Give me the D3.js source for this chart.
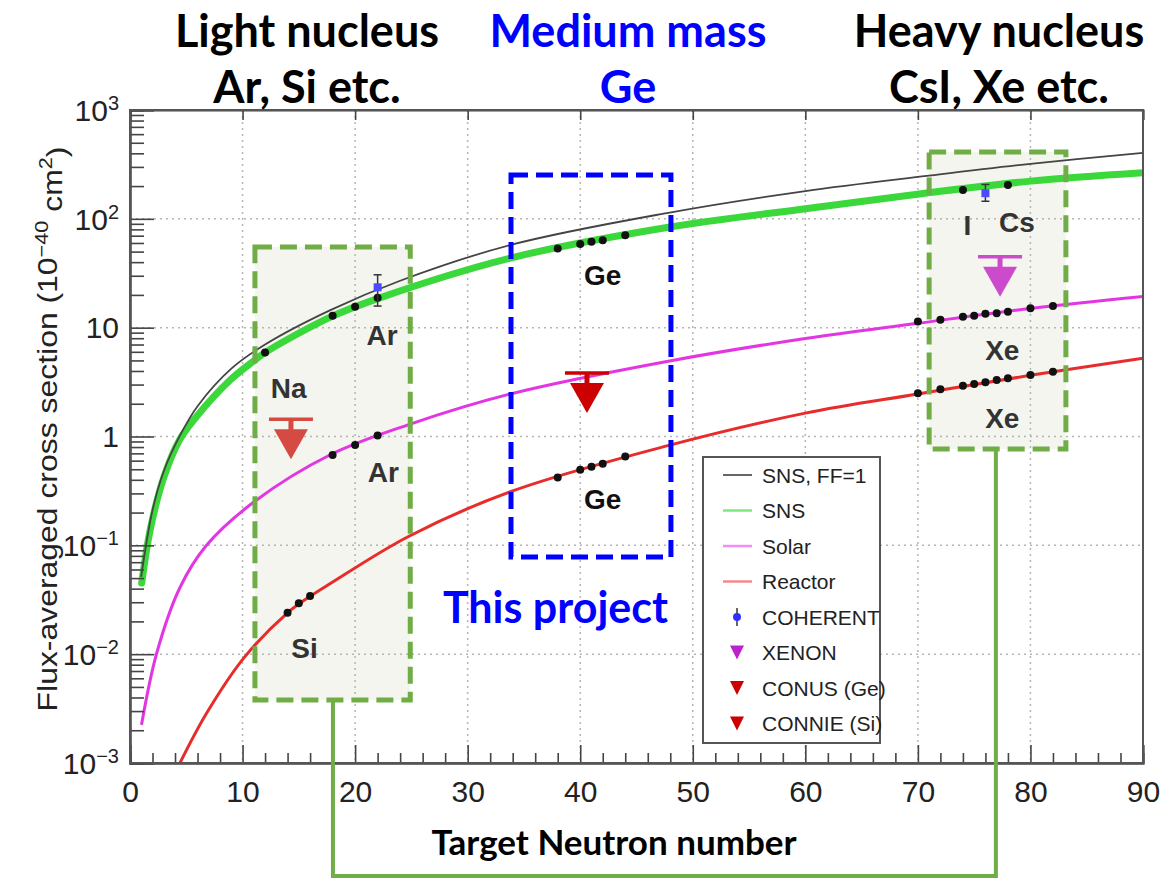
<!DOCTYPE html>
<html>
<head>
<meta charset="utf-8">
<script src="https://cdn.jsdelivr.net/npm/d3@7"></script>
<style>
  body { margin: 0; background: #fff; }
  svg { display: block; }
</style>
</head>
<body>
<script>
// curves: neutron number -> flux-averaged cross section (1e-40 cm^2)
const snsFF1N = [1, 2, 3, 4.5, 6, 9, 12, 17.8, 24, 33.8, 47.7, 60, 70.8, 80, 90];
const snsFF1V = [0.052, 0.21, 0.48, 1.05, 1.9, 4.2, 7.0, 14.5, 27, 57.5, 113, 180, 248, 320, 403];

const snsN = [1.04, 1.8, 3, 4.4, 5.9, 8.9, 10.9, 12, 17.8, 22, 33.8, 47.7, 60, 70.8, 80, 90];
const snsV = [0.045, 0.14, 0.42, 0.93, 1.52, 3.3, 4.86, 5.9, 12.5, 18.5, 43.6, 83.3, 124, 173, 222, 265];

const solarN = [1.04, 2.37, 4.44, 6.8, 11, 17.8, 24.7, 33.8, 47.7, 60, 70, 80, 90];
const solarV = [0.0023, 0.0102, 0.041, 0.10, 0.25, 0.68, 1.28, 2.46, 4.89, 7.95, 10.97, 15.0, 19.3];

const reactorN = [4.44, 6.8, 10.07, 14, 16, 17.8, 24.7, 33.8, 47.7, 60, 70, 80, 90];
const reactorV = [0.001, 0.00286, 0.0091, 0.024, 0.034, 0.0446, 0.12, 0.311, 0.82, 1.64, 2.46, 3.65, 5.24];

// target isotopes (black dots) on each curve
const snsDotN = [12, 18, 20, 22, 38, 40, 41, 42, 44, 74, 78];
const snsDotV = [5.9, 12.9, 15.6, 18.8, 53.3, 58.7, 61.6, 63.7, 70.8, 184, 205];
const solarDotN = [18, 20, 22, 70, 72, 74, 75, 76, 77, 78, 80, 82];
const solarDotV = [0.676, 0.835, 1.02, 11.4, 11.8, 12.6, 12.9, 13.4, 13.6, 14.0, 15.1, 15.8];
const reactorDotN = [14, 15, 16, 38, 40, 41, 42, 44, 70, 72, 74, 75, 76, 77, 78, 80, 82];
const reactorDotV = [0.024, 0.0294, 0.0343, 0.42, 0.494, 0.527, 0.563, 0.656, 2.50, 2.72, 2.93, 3.04, 3.15, 3.30, 3.43, 3.67, 3.94];

// COHERENT measurements: N, value, low, high
const coherentN = [22, 76];
const coherentV = [23.5, 172];
const coherentLo = [15.8, 145];
const coherentHi = [30.6, 207];

// upper limits
const limitNames = ['XENON', 'CONNIE (Si)', 'CONUS (Ge)'];
const limitN = [77.3, 14.3, 40.6];
const limitV = [44.9, 1.44, 3.84];
const limitColors = ['#cc4acc', '#d64a44', '#cc0000'];

// labels inside the plot
const labelText = ['Ar', 'Na', 'Ar', 'Si', 'Ge', 'Ge', 'I', 'Cs', 'Xe', 'Xe'];
const labelN = [22.4, 14.1, 22.5, 15.5, 42.0, 42.0, 74.4, 78.8, 77.5, 77.5];
const labelV = [8.57, 2.79, 0.472, 0.0114, 30.5, 0.267, 87.9, 93.5, 6.24, 1.48];

const xTicks = [0, 10, 20, 30, 40, 50, 60, 70, 80, 90];
const yTicks = [1e-3, 1e-2, 1e-1, 1, 10, 1e2, 1e3];
const yTickBase = ['10', '10', '10', '1', '10', '10', '10'];
const yTickExp = ['\u22123', '\u22122', '\u22121', '', '', '2', '3'];

const legendNames = ['SNS, FF=1', 'SNS', 'Solar', 'Reactor', 'COHERENT', 'XENON', 'CONUS (Ge)', 'CONNIE (Si)'];

// annotation boxes (N range, value range)
const lightBox = [[11.1, 24.9], [0.0038, 55]];
const mediumBox = [[33.85, 48.06], [0.078, 253]];
const heavyBox = [[71.0, 83.15], [0.767, 411]];

const W = 1165, H = 879;
const P = { left: 130, right: 1143, top: 110, bottom: 763 };
const AX = 'Liberation Sans, Arial, sans-serif';
const ANN = 'Lato, sans-serif';

const x = d3.scaleLinear().domain([0, 90]).range([P.left, P.right]);
const y = d3.scaleLog().domain([1e-3, 1e3]).range([P.bottom, P.top]);

const svg = d3.select('body').append('svg').attr('width', W).attr('height', H);
svg.append('rect').attr('width', W).attr('height', H).attr('fill', '#fff');

svg.append('clipPath').attr('id', 'clip')
  .append('rect').attr('x', P.left).attr('y', P.top)
  .attr('width', P.right - P.left).attr('height', P.bottom - P.top);

const boxRect = (b) => ({
  x: x(b[0][0]), y: y(b[1][1]),
  w: x(b[0][1]) - x(b[0][0]), h: y(b[1][0]) - y(b[1][1]),
});

// light fill of the green boxes
[lightBox, heavyBox].forEach((b) => {
  const r = boxRect(b);
  svg.append('rect').attr('x', r.x).attr('y', r.y).attr('width', r.w).attr('height', r.h)
    .attr('fill', '#f3f5ee');
});

// dotted grid
const grid = svg.append('g').attr('stroke', '#b5b5b5').attr('stroke-width', 1.5)
  .attr('stroke-dasharray', '2,4');
grid.selectAll('.gx').data(xTicks.slice(1, -1)).join('line')
  .attr('x1', (d) => x(d)).attr('x2', (d) => x(d))
  .attr('y1', P.top).attr('y2', P.bottom);
grid.selectAll('.gy').data(yTicks.slice(1, -1)).join('line')
  .attr('y1', (d) => y(d)).attr('y2', (d) => y(d))
  .attr('x1', P.left).attr('x2', P.right);

// curves
const line = d3.line().x((d) => x(d[0])).y((d) => y(d[1])).curve(d3.curveCatmullRom.alpha(0.5));
const curves = svg.append('g').attr('clip-path', 'url(#clip)').attr('fill', 'none');
const series = [
  { n: snsN, v: snsV, color: '#3ad83a', w: 7 },
  { n: snsFF1N, v: snsFF1V, color: '#444', w: 1.8 },
  { n: solarN, v: solarV, color: '#e236e2', w: 3 },
  { n: reactorN, v: reactorV, color: '#e82c2c', w: 3 },
];
series.forEach((s) => {
  curves.append('path')
    .datum(s.n.map((n, i) => [n, s.v[i]]))
    .attr('d', line)
    .attr('stroke', s.color)
    .attr('stroke-width', s.w)
    .attr('stroke-linecap', 'round');
});

// isotope dots
const dots = [[snsDotN, snsDotV], [solarDotN, solarDotV], [reactorDotN, reactorDotV]]
  .flatMap(([ns, vs]) => ns.map((n, i) => [n, vs[i]]));
svg.append('g').selectAll('circle').data(dots).join('circle')
  .attr('cx', (d) => x(d[0])).attr('cy', (d) => y(d[1])).attr('r', 4)
  .attr('fill', '#111');

// COHERENT points with error bars
const coh = svg.append('g');
coherentN.forEach((n, i) => {
  const cx = x(n);
  coh.append('line').attr('x1', cx).attr('x2', cx)
    .attr('y1', y(coherentLo[i])).attr('y2', y(coherentHi[i]))
    .attr('stroke', '#333').attr('stroke-width', 1.5);
  [coherentLo[i], coherentHi[i]].forEach((v) => {
    coh.append('line').attr('x1', cx - 4).attr('x2', cx + 4)
      .attr('y1', y(v)).attr('y2', y(v)).attr('stroke', '#333').attr('stroke-width', 1.5);
  });
  coh.append('rect').attr('x', cx - 4).attr('y', y(coherentV[i]) - 4)
    .attr('width', 8).attr('height', 8).attr('fill', '#4a4aff');
});

// upper limit arrows
function limitArrow(g, cx, cy, color, s) {
  g.append('line').attr('x1', cx - 22 * s).attr('x2', cx + 22 * s)
    .attr('y1', cy).attr('y2', cy).attr('stroke', color).attr('stroke-width', 3.5 * s);
  g.append('rect').attr('x', cx - 2.5 * s).attr('y', cy).attr('width', 5 * s).attr('height', 12 * s)
    .attr('fill', color);
  g.append('path')
    .attr('d', `M${cx - 17 * s},${cy + 10 * s}L${cx + 17 * s},${cy + 10 * s}L${cx},${cy + 40 * s}Z`)
    .attr('fill', color);
}
const limits = svg.append('g');
limitN.forEach((n, i) => limitArrow(limits, x(n), y(limitV[i]), limitColors[i], 1));

// element labels
svg.append('g').selectAll('text').data(labelText).join('text')
  .attr('x', (d, i) => x(labelN[i])).attr('y', (d, i) => y(labelV[i]))
  .attr('dy', '0.36em').attr('text-anchor', 'middle')
  .attr('font-family', AX).attr('font-weight', 'bold').attr('font-size', 28)
  .attr('fill', (d) => (d === 'Ge' ? '#111' : '#333'))
  .text((d) => d);

// axes
const xAxis = d3.axisBottom(x).tickValues(xTicks).tickSize(-18).tickPadding(18)
  .tickFormat(d3.format('d'));
const xMinor = d3.axisBottom(x).tickValues(d3.range(0, 91, 2).filter((d) => d % 10))
  .tickSize(-10).tickFormat('');
const gx = svg.append('g').attr('transform', `translate(0,${P.bottom})`).call(xAxis);
svg.append('g').attr('transform', `translate(0,${P.bottom})`).call(xMinor);
gx.selectAll('text').attr('font-family', AX).attr('font-size', 30).attr('fill', '#222');

const yMinorVals = [];
for (let e = -3; e < 3; e += 1) {
  for (let k = 2; k <= 9; k += 1) yMinorVals.push(k * 10 ** e);
}
const yAxis = d3.axisLeft(y).tickValues(yTicks).tickSize(-24).tickFormat('');
const yMinor = d3.axisLeft(y).tickValues(yMinorVals).tickSize(-14).tickFormat('');
svg.append('g').attr('transform', `translate(${P.left},0)`).call(yAxis);
svg.append('g').attr('transform', `translate(${P.left},0)`).call(yMinor);

// top ticks
svg.append('g').attr('transform', `translate(0,${P.top})`)
  .call(d3.axisTop(x).tickValues(xTicks).tickSize(-10).tickFormat(''));

svg.selectAll('.domain').attr('stroke', '#444').attr('stroke-width', 2);
svg.selectAll('.tick line').attr('stroke', '#444').attr('stroke-width', 1.6);

svg.append('rect').attr('x', P.left).attr('y', P.top)
  .attr('width', P.right - P.left).attr('height', P.bottom - P.top)
  .attr('fill', 'none').attr('stroke', '#555').attr('stroke-width', 2);

// y tick labels with exponents
const yl = svg.append('g').attr('font-family', AX).attr('fill', '#222');
yTicks.forEach((t, i) => {
  const txt = yl.append('text').attr('x', 119).attr('y', y(t)).attr('dy', '0.36em')
    .attr('text-anchor', 'end').attr('font-size', 30);
  txt.append('tspan').text(yTickBase[i]);
  if (yTickExp[i]) {
    txt.append('tspan').attr('dy', '-0.55em').attr('font-size', 20).text(yTickExp[i]);
  }
});

// axis titles
const yt = svg.append('text').attr('transform', 'translate(57,429) rotate(-90) scale(1.14,1)')
  .attr('text-anchor', 'middle').attr('font-family', AX).attr('font-size', 28).attr('fill', '#222');
yt.append('tspan').text('Flux-averaged cross section (10');
yt.append('tspan').attr('dy', '-0.5em').attr('font-size', 19).text('\u221240');
yt.append('tspan').attr('dy', '0.5em').text(' cm');
yt.append('tspan').attr('dy', '-0.5em').attr('font-size', 19).text('2');
yt.append('tspan').attr('dy', '0.5em').text(')');

svg.append('text').attr('x', 614).attr('y', 855).attr('text-anchor', 'middle')
  .attr('font-family', ANN).attr('font-weight', 'bold').attr('font-size', 35)
  .attr('fill', '#000').text('Target Neutron number');

// legend
const lg = svg.append('g');
lg.append('rect').attr('x', 703).attr('y', 457).attr('width', 177).attr('height', 286)
  .attr('fill', '#fff').attr('stroke', '#555').attr('stroke-width', 2);
const legendColors = ['#333', '#7fe87f', '#f48ef4', '#f58a8a'];
legendNames.forEach((name, i) => {
  const ly = 475 + i * 35.5;
  if (i < 4) {
    lg.append('line').attr('x1', 723).attr('x2', 752).attr('y1', ly).attr('y2', ly)
      .attr('stroke', legendColors[i]).attr('stroke-width', i === 0 ? 1.5 : 2.5);
  } else if (i === 4) {
    lg.append('line').attr('x1', 737).attr('x2', 737).attr('y1', ly - 9).attr('y2', ly + 9)
      .attr('stroke', '#333').attr('stroke-width', 1.5);
    lg.append('circle').attr('cx', 737).attr('cy', ly).attr('r', 4).attr('fill', '#3030ff');
  } else {
    const c = i === 5 ? '#bb22cc' : '#cc0000';
    lg.append('path').attr('d', `M730,${ly - 7}L744,${ly - 7}L737,${ly + 7}Z`).attr('fill', c);
  }
  lg.append('text').attr('x', 762).attr('y', ly).attr('dy', '0.36em')
    .attr('font-family', AX).attr('font-size', 21).attr('fill', '#222').text(name);
});

// annotation boxes
const boxStyles = [[lightBox, '#70ad47'], [mediumBox, '#0000ff'], [heavyBox, '#70ad47']];
boxStyles.forEach(([b, c]) => {
  const r = boxRect(b);
  svg.append('rect').attr('x', r.x).attr('y', r.y).attr('width', r.w).attr('height', r.h)
    .attr('fill', 'none').attr('stroke', c).attr('stroke-width', 5)
    .attr('stroke-dasharray', '17,8');
});

// connector between the two green boxes
const lb = boxRect(lightBox);
const hb = boxRect(heavyBox);
svg.append('path')
  .attr('d', `M${x(18.03)},${lb.y + lb.h}V876H${x(76.93)}V${hb.y + hb.h}`)
  .attr('fill', 'none').attr('stroke', '#70ad47').attr('stroke-width', 4);

svg.append('text').attr('x', x(37.8)).attr('y', y(0.027)).attr('dy', '0.36em')
  .attr('text-anchor', 'middle').attr('font-family', ANN).attr('font-weight', 'bold')
  .attr('font-size', 43).attr('fill', '#0000ff').text('This project');

// headings
const headings = [
  [307, ['Light nucleus', 'Ar, Si etc.'], '#000'],
  [628, ['Medium mass', 'Ge'], '#0000ff'],
  [999, ['Heavy nucleus', 'CsI, Xe etc.'], '#000'],
];
headings.forEach(([hx, lines, c]) => {
  lines.forEach((t, j) => {
    svg.append('text').attr('x', hx).attr('y', 47 + j * 56).attr('text-anchor', 'middle')
      .attr('font-family', ANN).attr('font-weight', 'bold').attr('font-size', 45)
      .attr('fill', c).text(t);
  });
});
</script>
</body>
</html>
